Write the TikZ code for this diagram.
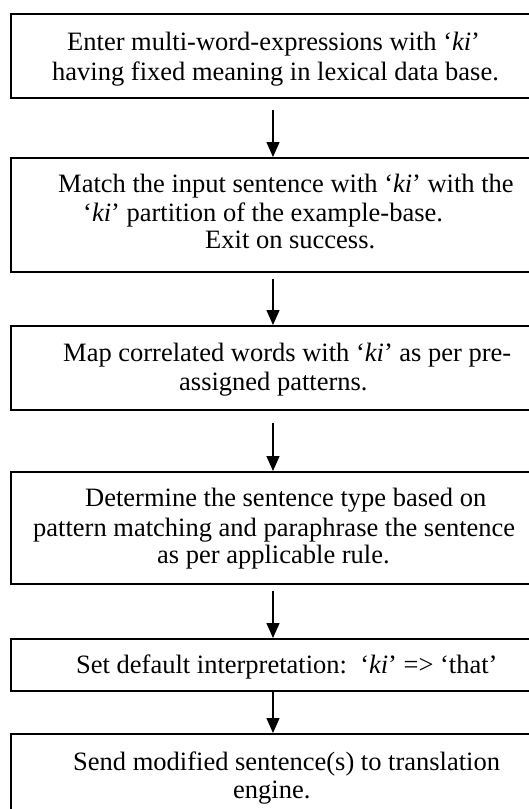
\documentclass[tikz,border=0pt]{standalone}
\usepackage{fontspec}
\setmainfont{Liberation Serif}
\usetikzlibrary{arrows.meta}
\begin{document}
\begin{tikzpicture}[x=1pt,y=-1pt,
  box/.style={draw,line width=1.8pt,minimum width=524pt,inner sep=0pt,anchor=north},
  txt/.style={anchor=base west,inner sep=0pt,font=\fontsize{26.5}{29}\selectfont},
  flow/.style={-{Triangle[length=15pt,width=13pt]},line width=1.3pt}]
\useasboundingbox (0,0) rectangle (529,809);
% boxes
\node[box,minimum height=84pt]  (b1) at (273,13)  {};
\node[box,minimum height=114pt] (b2) at (273,157) {};
\node[box,minimum height=84pt]  (b3) at (273,325) {};
\node[box,minimum height=112pt] (b4) at (273,471) {};
\node[box,minimum height=52pt]  (b5) at (273,638) {};
\node[box,minimum height=110pt] (b6) at (273,733) {};
% texts
\node[txt] (t1a) at (67,50)  {Enter multi-word-expressions with ‘\textit{ki}’};
\node[txt] (t1b) at (52,80)  {having fixed meaning in lexical data base.};
\node[txt] (t2a) at (58,192) {Match the input sentence with ‘\textit{ki}’ with the};
\node[txt] (t2b) at (83,221) {‘\textit{ki}’ partition of the example-base.};
\node[txt] (t2c) at (205,248) {Exit on success.};
\node[txt] (t3a) at (63,361) {Map correlated words with ‘\textit{ki}’ as per pre-};
\node[txt] (t3b) at (179,390) {assigned patterns.};
\node[txt] (t4a) at (85,506) {Determine the sentence type based on};
\node[txt] (t4b) at (33,536) {pattern matching and paraphrase the sentence};
\node[txt] (t4c) at (157,563) {as per applicable rule.};
\node[txt] (t5a) at (76,673) {Set default interpretation:\ \ ‘\textit{ki}’ => ‘that’};
\node[txt] (t6a) at (73,770) {Send modified sentence(s) to translation};
\node[txt] (t6b) at (233,798) {engine.};
% connectors
\draw[flow,shorten <=11pt] (b1) -- (b2);
\draw[flow,shorten <=6pt]  (b2) -- (b3);
\draw[flow,shorten <=12pt] (b3) -- (b4);
\draw[flow,shorten <=6pt]  (b4) -- (b5);
\draw[flow]                (b5) -- (b6);
\end{tikzpicture}
\end{document}
